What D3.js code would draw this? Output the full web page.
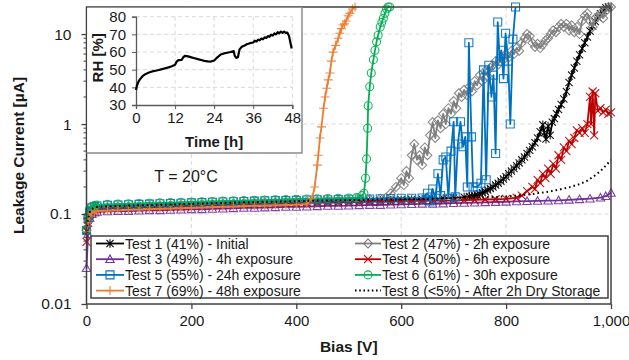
<!DOCTYPE html>
<html>
<head>
<meta charset="utf-8">
<script src="https://cdn.jsdelivr.net/npm/d3@7"></script>
<style>
  body { margin: 0; background: #fff; }
  svg { font-family: "Liberation Sans", Arial, sans-serif; }
</style>
</head>
<body>
<div class="canvas"></div>
<script>
// ---- data ----
const biasTicks = [0, 200, 400, 600, 800, 1000];
const currentTicks = [0.01, 0.1, 1, 10];
const currentTickLabels = ["0.01", "0.1", "1", "10"];
const timeTicks = [0, 12, 24, 36, 48];
const rhTicks = [30, 40, 50, 60, 70, 80];

const seriesNames = [
  "Test 1 (41%) - Initial",
  "Test 2 (47%) - 2h exposure",
  "Test 3 (49%) - 4h exposure",
  "Test 4 (50%) - 6h exposure",
  "Test 5 (55%) - 24h exposure",
  "Test 6 (61%) - 30h exposure",
  "Test 7 (69%) - 48h exposure",
  "Test 8 (<5%) - After 2h Dry Storage"
];

// [bias V, current uA]
const test1 = [[0,0.065],[3,0.085],[6,0.1],[10,0.11],[15,0.114],[20,0.116],[40,0.118],[60,0.119],[80,0.12],[100,0.121],
  [120,0.122],[140,0.123],[160,0.124],[180,0.125],[200,0.126],[220,0.127],[240,0.128],[260,0.129],[280,0.13],[300,0.131],
  [320,0.132],[340,0.133],[360,0.134],[380,0.135],[400,0.136],[420,0.136],[440,0.137],[460,0.138],[480,0.139],[500,0.14],
  [520,0.141],[540,0.141],[560,0.142],[580,0.143],[600,0.144],[620,0.145],[640,0.146],[660,0.147],[680,0.149],[700,0.151],
  [720,0.154],[730,0.157],[735,0.158],[740,0.16],[745,0.163],[750,0.167],[755,0.172],[760,0.178],[765,0.185],[770,0.192],
  [775,0.2],[780,0.21],[785,0.22],[790,0.232],[795,0.245],[800,0.26],[805,0.28],[810,0.3],[815,0.32],[820,0.345],
  [825,0.37],[830,0.4],[835,0.43],[840,0.47],[845,0.51],[850,0.56],[855,0.62],[860,0.7],[865,0.82],[870,0.98],
  [873,0.8],[876,0.68],[880,0.95],[884,0.75],[888,1.05],[892,1.15],[896,1.3],[900,1.45],[905,1.65],[910,1.9],
  [915,2.3],[920,2.9],[925,3.5],[930,4.2],[935,5.0],[940,5.9],[945,6.9],[950,8.0],[955,9.3],[960,10.8],
  [965,12.3],[970,13.8],[975,15.3],[980,16.8],[985,18.3],[990,19.6],[995,20]];

const test2 = [[0,0.066],[3,0.088],[6,0.102],[10,0.112],[15,0.116],[20,0.118],[40,0.12],[60,0.121],[80,0.122],[100,0.123],
  [120,0.124],[140,0.125],[160,0.126],[180,0.127],[200,0.128],[220,0.129],[240,0.13],[260,0.131],[280,0.132],[300,0.133],
  [320,0.134],[340,0.135],[360,0.136],[380,0.137],[400,0.138],[420,0.139],[440,0.14],[460,0.141],[480,0.142],[500,0.143],
  [520,0.144],[540,0.146],[560,0.148],[570,0.15],[580,0.17],[590,0.2],[600,0.25],[605,0.21],[610,0.3],[615,0.25],
  [620,0.45],[625,0.6],[630,0.4],[635,0.45],[640,0.35],[645,0.55],[650,0.45],[655,0.75],[660,1.05],[665,0.7],
  [670,1.1],[675,0.9],[680,1.3],[685,1.0],[690,1.5],[695,1.3],[700,1.8],[705,1.5],[710,2.2],[715,2.0],
  [720,2.4],[725,2.1],[730,2.6],[735,2.3],[740,3.0],[745,2.7],[750,3.5],[755,3.0],[760,3.9],[765,3.4],
  [770,4.2],[775,4.5],[780,5.0],[785,4.6],[790,5.6],[795,5.2],[800,6.0],[805,5.5],[810,6.5],[815,6.0],
  [820,7.0],[825,6.5],[830,8.0],[835,9.0],[840,10.0],[845,9.5],[850,8.0],[855,7.2],[860,7.8],[865,7.0],
  [870,7.6],[875,8.5],[880,9.0],[885,10],[890,11],[895,10.5],[900,12],[905,13],[910,12],[915,13],
  [920,11],[925,12.5],[930,10.5],[935,12],[940,10],[945,14],[950,16],[955,17],[960,14],[965,12],
  [970,15],[975,16],[980,17],[985,15],[990,18],[995,20],[1000,20]];

const test3 = [[0,0.025],[3,0.06],[6,0.09],[10,0.1],[15,0.104],[20,0.106],[40,0.107],[60,0.108],[80,0.108],[100,0.109],
  [120,0.11],[140,0.11],[160,0.111],[180,0.112],[200,0.113],[220,0.113],[240,0.114],[260,0.115],[280,0.116],[300,0.117],
  [320,0.117],[340,0.118],[360,0.119],[380,0.12],[400,0.12],[420,0.121],[440,0.122],[460,0.123],[480,0.123],[500,0.124],
  [520,0.125],[540,0.126],[560,0.126],[580,0.127],[600,0.128],[620,0.129],[640,0.13],[660,0.13],[680,0.131],[700,0.132],
  [720,0.133],[740,0.134],[760,0.135],[780,0.136],[800,0.137],[820,0.138],[840,0.139],[860,0.14],[880,0.141],[900,0.142],
  [920,0.144],[940,0.146],[960,0.148],[980,0.152],[990,0.158],[1000,0.172]];

const test4 = [[0,0.049],[3,0.08],[6,0.097],[10,0.107],[15,0.111],[20,0.113],[40,0.115],[60,0.116],[80,0.117],[100,0.118],
  [120,0.119],[140,0.12],[160,0.121],[180,0.122],[200,0.123],[220,0.124],[240,0.125],[260,0.126],[280,0.127],[300,0.128],
  [320,0.129],[340,0.13],[360,0.13],[380,0.131],[400,0.132],[420,0.133],[440,0.134],[460,0.134],[480,0.135],[500,0.136],
  [520,0.136],[540,0.137],[560,0.138],[580,0.138],[600,0.139],[620,0.14],[640,0.14],[660,0.141],[680,0.141],[700,0.142],
  [720,0.143],[740,0.144],[760,0.145],[780,0.146],[800,0.147],[820,0.152],[830,0.16],[840,0.18],[850,0.2],[855,0.19],
  [860,0.24],[865,0.22],[870,0.28],[875,0.25],[880,0.32],[885,0.28],[890,0.36],[895,0.32],[900,0.45],[905,0.4],
  [910,0.55],[915,0.5],[920,0.65],[925,0.6],[930,0.7],[935,0.85],[940,0.8],[945,0.9],[950,0.8],[955,1.0],
  [960,2.0],[962,1.0],[965,2.3],[968,0.75],[970,2.2],[975,1.4],[980,1.5],[985,1.35],[990,1.45],[995,1.3],[1000,1.35]];

const test5 = [[0,0.066],[3,0.09],[6,0.106],[10,0.117],[15,0.121],[20,0.123],[40,0.125],[60,0.126],[80,0.127],[100,0.128],
  [120,0.129],[140,0.13],[160,0.131],[180,0.132],[200,0.133],[220,0.134],[240,0.135],[260,0.136],[280,0.137],[300,0.138],
  [320,0.139],[340,0.14],[360,0.141],[380,0.141],[400,0.142],[420,0.143],[440,0.144],[460,0.144],[480,0.145],[500,0.146],
  [520,0.147],[540,0.147],[560,0.148],[580,0.149],[600,0.15],[620,0.15],[640,0.151],[650,0.17],[655,0.14],[660,0.19],
  [665,0.15],[670,0.28],[675,0.16],[680,0.4],[685,0.43],[690,0.15],[695,0.5],[700,1.06],[703,0.155],[708,0.6],
  [713,1.06],[718,0.56],[722,0.72],[726,0.2],[729,8.0],[734,0.72],[737,0.2],[745,0.2],[752,0.22],[757,4.0],
  [762,0.24],[767,4.5],[772,2.0],[776,3.5],[780,0.47],[784,13.6],[788,5.0],[791,6.6],[795,3.2],[799,10.2],
  [804,5.0],[808,1.0],[813,8.8],[818,20]];

const test6 = [[0,0.067],[3,0.092],[6,0.11],[10,0.12],[15,0.124],[20,0.126],[40,0.128],[60,0.129],[80,0.13],[100,0.131],
  [120,0.132],[140,0.133],[160,0.134],[180,0.135],[200,0.136],[220,0.137],[240,0.138],[260,0.139],[280,0.14],[300,0.141],
  [320,0.142],[340,0.143],[360,0.144],[380,0.145],[400,0.146],[420,0.147],[440,0.148],[460,0.149],[480,0.15],[500,0.151],
  [515,0.152],[525,0.16],[529,0.17],[532,0.25],[534,0.41],[536,0.9],[537,1.6],[540,2.6],[543,3.7],[547,5.2],
  [550,6.6],[553,8.2],[556,9.7],[560,12],[563,13.5],[566,15],[569,17],[572,19],[575,20],[578,20]];

const test7 = [[0,0.064],[3,0.08],[6,0.095],[10,0.103],[15,0.106],[20,0.108],[40,0.109],[60,0.11],[80,0.111],[100,0.112],
  [120,0.113],[140,0.114],[160,0.115],[180,0.116],[200,0.117],[220,0.118],[240,0.119],[260,0.12],[280,0.121],[300,0.122],
  [320,0.123],[340,0.124],[360,0.125],[380,0.126],[400,0.127],[420,0.129],[430,0.15],[435,0.2],[440,0.35],[442,0.45],
  [445,0.7],[448,0.93],[452,1.5],[455,2.0],[458,2.5],[461,3.1],[464,3.7],[467,5.0],[470,6.3],[475,7.5],
  [480,9.0],[483,10.2],[486,11.5],[489,12.6],[492,13],[495,14],[499,16],[502,17],[507,19],[512,20]];

const test8 = [[0,0.065],[3,0.088],[6,0.104],[10,0.114],[15,0.118],[20,0.12],[40,0.122],[60,0.123],[80,0.124],[100,0.125],
  [120,0.126],[140,0.127],[160,0.128],[180,0.129],[200,0.13],[220,0.131],[240,0.132],[260,0.133],[280,0.134],[300,0.135],
  [320,0.136],[340,0.137],[360,0.137],[380,0.138],[400,0.139],[420,0.14],[440,0.141],[460,0.141],[480,0.142],[500,0.143],
  [520,0.143],[540,0.144],[560,0.145],[580,0.145],[600,0.146],[620,0.147],[640,0.147],[660,0.148],[680,0.149],[700,0.15],
  [720,0.151],[740,0.152],[760,0.153],[780,0.155],[800,0.157],[820,0.16],[840,0.164],[860,0.17],[880,0.177],[900,0.186],
  [920,0.198],[940,0.215],[955,0.235],[970,0.27],[980,0.3],[990,0.345],[1000,0.4]];

// inset: [time h, RH %]
const rhSeries = [[0,38.5],[0.3,41],[0.7,43],[1.2,44.5],[2,46.3],[3,47.6],[4,48.4],[5,49],[6,49.4],[7,49.8],
  [8,50.3],[9,50.8],[10,51.3],[11,51.9],[12,52.8],[12.5,54.6],[13,55.4],[14,55.5],[14.5,57],[15,57.8],
  [16,57.5],[17,57],[18,56.5],[19,56],[20,55.5],[21,55],[22,54.7],[23,54.6],[24,55.2],[25,57],
  [26,58.6],[27,59.2],[28,59.6],[29,60],[30,60.5],[30.3,58],[30.8,56.7],[31.3,57],[31.8,61.5],[32.5,63],
  [33.5,63.8],[34,64.4],[35,65],[36,65.4],[36.5,66.4],[37,65.9],[37.5,67],[38,66.6],[38.5,67.6],[39,67.2],
  [39.5,68.3],[40,67.9],[40.5,69],[41,68.6],[41.5,69.8],[42,69.3],[42.5,70.5],[43,70],[43.5,71.2],[44,70.6],
  [44.5,71.6],[45,70.9],[45.5,71.5],[46,70.8],[46.5,71],[47,69],[47.4,65.5],[47.8,62]];

const seriesData = [test1, test2, test3, test4, test5, test6, test7, test8];
const seriesColors = ["#000000", "#7f7f7f", "#7030a0", "#c00000", "#0070c0", "#00b050", "#ed7d31", "#000000"];
const seriesMarkers = ["star", "diamond", "triangle", "x", "square", "circle", "plus", "none"];

// ---- layout ----
const W = 629, H = 360;
const plot = { left: 86.5, right: 611, top: 7, bottom: 304 };
const inset = { left: 136, right: 292.3, top: 16.7, bottom: 105, boxRight: 302, boxBottom: 153 };

const svg = d3.select('.canvas').append('svg').attr('width', W).attr('height', H);

const x = d3.scaleLinear().domain([0, 1000]).range([plot.left, plot.right]);
const y = d3.scaleLog().domain([0.01, 20]).range([plot.bottom, plot.top]);

// gridlines
const grid = svg.append('g').attr('stroke', '#d9d9d9').attr('stroke-dasharray', '4,3');
grid.selectAll('.gx').data(biasTicks.slice(1, -1)).enter().append('line')
  .attr('x1', d => x(d)).attr('x2', d => x(d)).attr('y1', plot.top).attr('y2', plot.bottom);
grid.selectAll('.gy').data(currentTicks.slice(1)).enter().append('line')
  .attr('y1', d => y(d)).attr('y2', d => y(d)).attr('x1', plot.left).attr('x2', plot.right);

// marker path generator
function markerPath(type, s) {
  switch (type) {
    case 'square': return `M${-s},${-s}H${s}V${s}H${-s}Z`;
    case 'diamond': return `M0,${-s}L${s},0L0,${s}L${-s},0Z`;
    case 'triangle': return `M0,${-s}L${s},${s * 0.8}L${-s},${s * 0.8}Z`;
    case 'x': return `M${-s},${-s}L${s},${s}M${-s},${s}L${s},${-s}`;
    case 'plus': return `M${-s},0H${s}M0,${-s}V${s}`;
    case 'star': return `M${-s},${-s}L${s},${s}M${-s},${s}L${s},${-s}M0,${-s * 1.2}V${s * 1.2}`;
    case 'circle': return `M${s},0A${s},${s} 0 1,1 ${-s},0A${s},${s} 0 1,1 ${s},0`;
  }
  return '';
}
const markerSize = { square: 4, diamond: 4.5, triangle: 4.2, x: 4, plus: 4.5, star: 3.6, circle: 4 };

const line = d3.line().x(d => x(d[0])).y(d => y(d[1]));

const seriesG = svg.append('g');
seriesData.forEach((data, i) => {
  const g = seriesG.append('g');
  const dotted = seriesMarkers[i] === 'none';
  g.append('path').datum(data)
    .attr('d', line)
    .attr('fill', 'none')
    .attr('stroke', seriesColors[i])
    .attr('stroke-width', dotted ? 2 : 1.8)
    .attr('stroke-dasharray', dotted ? '1.6,3' : null)
    .attr('stroke-linejoin', 'round');
  if (!dotted) {
    const m = seriesMarkers[i];
    g.selectAll('path.m').data(data).enter().append('path')
      .attr('class', 'm')
      .attr('transform', d => `translate(${x(d[0])},${y(d[1])})`)
      .attr('d', markerPath(m, markerSize[m]))
      .attr('fill', 'none')
      .attr('stroke', seriesColors[i])
      .attr('stroke-width', 1.1)
      .attr('opacity', 0.9);
  }
});

// plot frame + axes
svg.append('rect')
  .attr('x', plot.left).attr('y', plot.top)
  .attr('width', plot.right - plot.left).attr('height', plot.bottom - plot.top)
  .attr('fill', 'none').attr('stroke', '#404040').attr('stroke-width', 1.5);

const xAxis = d3.axisBottom(x).tickValues(biasTicks).tickSize(5).tickPadding(6);
const xAxisG = svg.append('g').attr('transform', `translate(0 ${plot.bottom})`).call(xAxis);
xAxisG.select('.domain').remove();
xAxisG.selectAll('line').attr('stroke', '#404040').attr('stroke-width', 1.3);
xAxisG.selectAll('text').attr('font-size', '15px').attr('fill', '#1a1a1a')
  .attr('font-family', '"Liberation Sans", Arial, sans-serif');

const yAxis = d3.axisLeft(y).tickValues(currentTicks).tickFormat((d, i) => currentTickLabels[i]).tickSize(5).tickPadding(10);
const yAxisG = svg.append('g').attr('transform', `translate(${plot.left} 0)`).call(yAxis);
yAxisG.select('.domain').remove();
yAxisG.selectAll('line').attr('stroke', '#404040').attr('stroke-width', 1.3);
yAxisG.selectAll('text').attr('font-size', '15.5px').attr('fill', '#1a1a1a')
  .attr('font-family', '"Liberation Sans", Arial, sans-serif');

// minor log ticks
const minor = y.ticks().filter(d => currentTicks.indexOf(d) < 0 && d < 20);
svg.append('g').selectAll('line').data(minor).enter().append('line')
  .attr('x1', plot.left - 3).attr('x2', plot.left)
  .attr('y1', d => y(d)).attr('y2', d => y(d))
  .attr('stroke', '#404040').attr('stroke-width', 1);

// axis titles
svg.append('text')
  .attr('x', (plot.left + plot.right) / 2 - 0).attr('y', 352)
  .attr('text-anchor', 'middle').attr('font-weight', 'bold').attr('font-size', '15.5px')
  .attr('fill', '#1a1a1a').text('Bias [V]');
svg.append('text')
  .attr('transform', `translate(24 ${(plot.top + plot.bottom) / 2}) rotate(-90)`)
  .attr('text-anchor', 'middle').attr('font-weight', 'bold').attr('font-size', '15.5px')
  .attr('fill', '#1a1a1a').text('Leakage Current [µA]');

// temperature note
svg.append('text').attr('x', 186).attr('y', 182).attr('text-anchor', 'middle')
  .attr('font-size', '16px').attr('fill', '#1a1a1a').text('T = 20°C');

// ---- inset ----
const ig = svg.append('g');
ig.append('rect').attr('x', plot.left + 0.75).attr('y', plot.top + 0.75)
  .attr('width', inset.boxRight - plot.left - 0.75).attr('height', inset.boxBottom - plot.top - 0.75)
  .attr('fill', '#fff');
ig.append('path')
  .attr('d', `M${inset.boxRight},${plot.top}V${inset.boxBottom}H${plot.left}`)
  .attr('fill', 'none').attr('stroke', '#8c8c8c').attr('stroke-width', 1.5);

const ix = d3.scaleLinear().domain([0, 48]).range([inset.left, inset.right]);
const iy = d3.scaleLinear().domain([30, 80]).range([inset.bottom, inset.top]);

const igrid = ig.append('g').attr('stroke', '#d9d9d9').attr('stroke-dasharray', '4,3');
igrid.selectAll('.a').data(timeTicks.slice(1)).enter().append('line')
  .attr('x1', d => ix(d)).attr('x2', d => ix(d)).attr('y1', inset.top).attr('y2', inset.bottom);
igrid.selectAll('.b').data(rhTicks.slice(1)).enter().append('line')
  .attr('y1', d => iy(d)).attr('y2', d => iy(d)).attr('x1', inset.left).attr('x2', inset.right);

const ixAxisG = ig.append('g').attr('transform', `translate(0 ${inset.bottom})`)
  .call(d3.axisBottom(ix).tickValues(timeTicks).tickSize(4).tickPadding(3));
ixAxisG.select('.domain').attr('stroke', '#595959').attr('stroke-width', 1.3);
ixAxisG.selectAll('line').attr('stroke', '#595959');
ixAxisG.selectAll('text').attr('font-size', '15px').attr('fill', '#1a1a1a')
  .attr('font-family', '"Liberation Sans", Arial, sans-serif');

const iyAxisG = ig.append('g').attr('transform', `translate(${inset.left} 0)`)
  .call(d3.axisLeft(iy).tickValues(rhTicks).tickSize(4).tickPadding(6));
iyAxisG.select('.domain').attr('stroke', '#595959').attr('stroke-width', 1.3);
iyAxisG.selectAll('line').attr('stroke', '#595959');
iyAxisG.selectAll('text').attr('font-size', '15px').attr('fill', '#1a1a1a')
  .attr('font-family', '"Liberation Sans", Arial, sans-serif');

ig.append('path').datum(rhSeries)
  .attr('d', d3.line().x(d => ix(d[0])).y(d => iy(d[1])))
  .attr('fill', 'none').attr('stroke', '#000').attr('stroke-width', 2.2).attr('stroke-linejoin', 'round');

ig.append('text').attr('x', (inset.left + inset.right) / 2).attr('y', 147)
  .attr('text-anchor', 'middle').attr('font-weight', 'bold').attr('font-size', '15px')
  .attr('fill', '#1a1a1a').text('Time [h]');
ig.append('text')
  .attr('transform', `translate(103 ${(inset.top + inset.bottom) / 2 - 3}) rotate(-90)`)
  .attr('text-anchor', 'middle').attr('font-weight', 'bold').attr('font-size', '15px')
  .attr('fill', '#1a1a1a').text('RH [%]');

// ---- legend ----
const lg = svg.append('g');
lg.append('rect').attr('x', 91).attr('y', 236).attr('width', 517).attr('height', 62)
  .attr('fill', '#fff').attr('stroke', '#404040').attr('stroke-width', 1.5);
const legendCols = [{ x1: 96, x2: 124, tx: 125 }, { x1: 355, x2: 381, tx: 382 }];
seriesNames.forEach((name, i) => {
  const col = legendCols[i % 2];
  const row = Math.floor(i / 2);
  const cy = 243.5 + row * 15.7;
  const dotted = seriesMarkers[i] === 'none';
  lg.append('line').attr('x1', col.x1).attr('x2', col.x2).attr('y1', cy).attr('y2', cy)
    .attr('stroke', seriesColors[i]).attr('stroke-width', dotted ? 2 : 1.8)
    .attr('stroke-dasharray', dotted ? '1.6,2.6' : null);
  if (!dotted) {
    const m = seriesMarkers[i];
    lg.append('path').attr('transform', `translate(${(col.x1 + col.x2) / 2},${cy})`)
      .attr('d', markerPath(m, markerSize[m])).attr('fill', 'none')
      .attr('stroke', seriesColors[i]).attr('stroke-width', 1.1);
  }
  lg.append('text').attr('x', col.tx).attr('y', cy + 5)
    .attr('font-size', '14px').attr('fill', '#1a1a1a').text(name);
});
</script>
</body>
</html>
